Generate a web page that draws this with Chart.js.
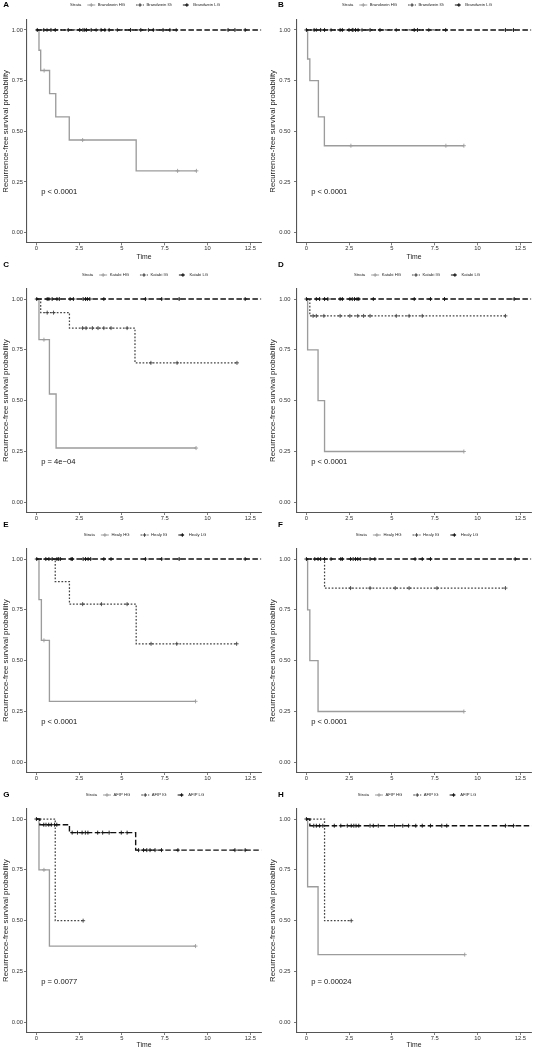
<!DOCTYPE html>
<html>
<head>
<meta charset="utf-8">
<script src="https://cdn.jsdelivr.net/npm/chart.js@4.4.1/dist/chart.umd.min.js"></script>
<style>
  html, body { margin: 0; padding: 0; background: #fff; }
  body { width: 536px; height: 1050px; position: relative; overflow: hidden; }
  .cell { position: absolute; overflow: hidden; }
  .cell canvas { position: absolute; left: 0; top: 0; }
</style>
</head>
<body>
<script>
// axis ticks
const xTicks = [0, 2.5, 5, 7.5, 10, 12.5];
const yTicks = [0, 0.25, 0.5, 0.75, 1];

// panels
const panelIds = ['A', 'B', 'C', 'D', 'E', 'F', 'G', 'H'];
const systems = ['Brandwein', 'Brandwein', 'Katabi', 'Katabi', 'Healy', 'Healy', 'AFIP', 'AFIP'];
const pLabels = ['p < 0.0001', 'p < 0.0001', 'p = 4e\u221204', 'p < 0.0001', 'p < 0.0001', 'p < 0.0001', 'p = 0.0077', 'p = 0.00024'];
const groupNames = ['HG', 'IG', 'LG'];

// Panel A - Brandwein
const hgTimeA = [0, 0.15, 0.25, 0.77, 1.13, 1.92, 5.83, 9.35];
const hgSurvA = [1, 0.9, 0.8, 0.686, 0.571, 0.457, 0.305, 0.305];
const hgCensA = [0.45, 2.7, 8.25, 9.35];
const igTimeA = [0, 8.2];
const igSurvA = [1, 1];
const igCensA = [0.62, 2.82, 3.49, 4.73, 6.55, 8.17];
const lgTimeA = [0, 13.4];
const lgSurvA = [1, 1];
const lgCensA = [0.05, 0.43, 0.85, 1.1, 1.86, 2.53, 2.72, 2.92, 3.2, 3.78, 4.0, 4.25, 5.5, 6.1, 6.83, 7.4, 7.8, 11.2, 11.6, 12.2];

// Panel B - Brandwein
const hgTimeB = [0, 0.07, 0.2, 0.7, 1.05, 9.2];
const hgSurvB = [1, 0.857, 0.75, 0.571, 0.429, 0.429];
const hgCensB = [2.6, 8.15, 9.2];
const igTimeB = [0, 8.2];
const igSurvB = [1, 1];
const igCensB = [0.58, 1.44, 2.73, 3.25, 5.25, 7.15];
const lgTimeB = [0, 13.4];
const lgSurvB = [1, 1];
const lgCensB = [0, 0.45, 0.83, 1.06, 1.97, 2.1, 2.49, 2.68, 2.87, 3.02, 3.72, 4.3, 6.3, 6.49, 8.14, 11.63, 12.1];

// Panel C - Katabi
const hgTimeC = [0, 0.15, 0.76, 1.15, 9.33];
const hgSurvC = [1, 0.8, 0.533, 0.267, 0.267];
const hgCensC = [0.44, 9.33];
const igTimeC = [0, 0.25, 1.93, 5.76, 11.72];
const igSurvC = [1, 0.933, 0.857, 0.686, 0.686];
const igCensC = [0.63, 1.0, 2.7, 2.9, 3.27, 3.6, 3.94, 4.36, 5.3, 6.69, 8.22, 11.72];
const lgTimeC = [0, 13.4];
const lgSurvC = [1, 1];
const lgCensC = [0.02, 0.63, 0.73, 0.92, 1.2, 1.34, 1.97, 2.16, 2.73, 2.87, 2.98, 3.12, 3.94, 6.37, 7.32, 8.34, 12.2];

// Panel D - Katabi
const hgTimeD = [0, 0.07, 0.68, 1.06, 9.2];
const hgSurvD = [1, 0.75, 0.5, 0.25, 0.25];
const hgCensD = [9.2];
const igTimeD = [0, 0.2, 11.63];
const igSurvD = [1, 0.917, 0.917];
const igCensD = [0.39, 0.58, 1.02, 1.97, 2.54, 3.0, 3.34, 3.72, 5.25, 6.0, 6.77, 11.63];
const lgTimeD = [0, 13.4];
const lgSurvD = [1, 1];
const lgCensD = [0, 0.58, 0.77, 1.06, 1.25, 1.97, 2.1, 2.54, 2.68, 2.81, 2.96, 3.06, 3.91, 6.3, 7.25, 8.07, 12.14];

// Panel E - Healy
const hgTimeE = [0, 0.15, 0.29, 0.76, 9.3];
const hgSurvE = [1, 0.8, 0.6, 0.3, 0.3];
const hgCensE = [0.44, 9.3];
const igTimeE = [0, 1.1, 1.93, 5.83, 11.7];
const igSurvE = [1, 0.889, 0.778, 0.583, 0.583];
const igCensE = [2.7, 3.8, 5.3, 6.7, 8.2, 11.7];
const lgTimeE = [0, 13.4];
const lgSurvE = [1, 1];
const lgCensE = [0.02, 0.55, 0.73, 0.92, 1.2, 1.3, 1.4, 2.03, 2.1, 2.73, 2.87, 3.02, 3.17, 3.94, 4.36, 6.37, 7.32, 8.34, 12.2];

// Panel F - Healy
const hgTimeF = [0, 0.07, 0.2, 0.68, 9.2];
const hgSurvF = [1, 0.75, 0.5, 0.25, 0.25];
const hgCensF = [9.2];
const igTimeF = [0, 1.06, 11.63];
const igSurvF = [1, 0.857, 0.857];
const igCensF = [2.58, 3.72, 5.19, 6.0, 7.63, 11.63];
const lgTimeF = [0, 13.4];
const lgSurvF = [1, 1];
const lgCensF = [0, 0.49, 0.68, 0.83, 1.06, 1.44, 2.01, 2.1, 2.58, 2.73, 2.87, 3.0, 3.15, 3.72, 4.0, 6.35, 6.77, 7.25, 12.2];

// Panel G - AFIP
const hgTimeG = [0, 0.15, 0.76, 9.3];
const hgSurvG = [1, 0.75, 0.375, 0.375];
const hgCensG = [0.44, 9.3];
const igTimeG = [0, 1.1, 2.73];
const igSurvG = [1, 0.5, 0.5];
const igCensG = [2.73];
const lgTimeG = [0, 0.2, 1.93, 5.8, 13.4];
const lgSurvG = [1, 0.972, 0.933, 0.847, 0.847];
const lgCensG = [0, 0.43, 0.56, 0.72, 0.87, 1.06, 1.19, 2.09, 2.4, 2.67, 2.86, 3.01, 3.58, 3.87, 4.25, 4.96, 5.3, 5.97, 6.26, 6.45, 6.64, 6.93, 7.31, 8.27, 11.6, 12.2];

// Panel H - AFIP
const hgTimeH = [0, 0.07, 0.68, 9.25];
const hgSurvH = [1, 0.667, 0.333, 0.333];
const hgCensH = [9.25];
const igTimeH = [0, 1.06, 2.62];
const igSurvH = [1, 0.5, 0.5];
const igCensH = [2.62];
const lgTimeH = [0, 0.2, 13.4];
const lgSurvH = [1, 0.967, 0.967];
const lgCensH = [0, 0.43, 0.58, 0.77, 0.96, 1.63, 2.01, 2.39, 2.62, 2.77, 2.9, 3.06, 3.72, 3.91, 4.2, 5.15, 5.63, 5.97, 6.39, 6.77, 7.25, 7.91, 8.2, 11.63, 12.1];

const panelCurves = [
  [[hgTimeA, hgSurvA, hgCensA], [igTimeA, igSurvA, igCensA], [lgTimeA, lgSurvA, lgCensA]],
  [[hgTimeB, hgSurvB, hgCensB], [igTimeB, igSurvB, igCensB], [lgTimeB, lgSurvB, lgCensB]],
  [[hgTimeC, hgSurvC, hgCensC], [igTimeC, igSurvC, igCensC], [lgTimeC, lgSurvC, lgCensC]],
  [[hgTimeD, hgSurvD, hgCensD], [igTimeD, igSurvD, igCensD], [lgTimeD, lgSurvD, lgCensD]],
  [[hgTimeE, hgSurvE, hgCensE], [igTimeE, igSurvE, igCensE], [lgTimeE, lgSurvE, lgCensE]],
  [[hgTimeF, hgSurvF, hgCensF], [igTimeF, igSurvF, igCensF], [lgTimeF, lgSurvF, lgCensF]],
  [[hgTimeG, hgSurvG, hgCensG], [igTimeG, igSurvG, igCensG], [lgTimeG, lgSurvG, lgCensG]],
  [[hgTimeH, hgSurvH, hgCensH], [igTimeH, igSurvH, igCensH], [lgTimeH, lgSurvH, lgCensH]]
];

// styles
const groupColors = ['#9c9c9c', '#444444', '#111111'];
const groupDash = [[], [1.7, 1.7], [5.5, 2.5]];
const groupWidth = [1.35, 1.25, 1.4];
const xMin = -0.55, xMax = 13.13;
const pPos = [0.28, 0.2];

// layout of the 2x4 grid (pixels)
const rows = [
  { top: 0,   height: 262, canvasH: 262, areaTop: 19.85, areaBottom: 242.8, letterY: 5,  legendY: 5 },
  { top: 262, height: 260, canvasH: 270, areaTop: 26.85, areaBottom: 250.5, letterY: 3,  legendY: 13 },
  { top: 522, height: 262, canvasH: 270, areaTop: 26.85, areaBottom: 250.5, letterY: 3,  legendY: 13 },
  { top: 784, height: 266, canvasH: 266, areaTop: 24.85, areaBottom: 248.5, letterY: 11, legendY: 11 }
];
const cols = [
  { left: 0,   width: 266, axisW: 27, letterX: 3.3, legendCx: 145, titlePad: 1.3, tickPad: 1 },
  { left: 266, width: 270, axisW: 31, letterX: 12,  legendCx: 151, titlePad: 2,   tickPad: 3.5 }
];

Chart.defaults.font.family = '"Liberation Sans", Arial, Helvetica, sans-serif';

function survAt(times, surv, t) {
  let s = surv[0];
  for (let i = 0; i < times.length; i++) {
    if (times[i] <= t) s = surv[i];
  }
  return s;
}

// letter, legend and p-value drawn on top of each panel
const panelDeco = {
  id: 'panelDeco',
  afterDraw(chart, args, opts) {
    const ctx = chart.ctx;
    const xs = chart.scales.x, ys = chart.scales.y;
    ctx.save();
    ctx.textBaseline = 'middle';
    ctx.textAlign = 'left';

    ctx.fillStyle = '#000';
    ctx.font = 'bold 8px "Liberation Sans", Arial, sans-serif';
    ctx.fillText(opts.letter, opts.letterX, opts.letterY);

    ctx.font = '4.2px "Liberation Sans", Arial, sans-serif';
    const titleW = ctx.measureText('Strata').width;
    const widths = opts.labels.map(l => ctx.measureText(l).width);
    const total = titleW + 6 + widths.reduce((a, w) => a + 10.5 + w, 0) + 11 * (widths.length - 1);
    let x = opts.legendCx - total / 2;
    const y = opts.legendY;
    ctx.fillStyle = '#222';
    ctx.fillText('Strata', x, y);
    x += titleW + 6;
    opts.labels.forEach((label, i) => {
      ctx.strokeStyle = groupColors[i];
      ctx.lineWidth = 1;
      ctx.setLineDash(groupDash[i]);
      ctx.beginPath();
      ctx.moveTo(x, y);
      ctx.lineTo(x + 8, y);
      ctx.stroke();
      ctx.setLineDash([]);
      ctx.beginPath();
      ctx.moveTo(x + 4, y - 1.8);
      ctx.lineTo(x + 4, y + 1.8);
      ctx.moveTo(x + 2.2, y);
      ctx.lineTo(x + 5.8, y);
      ctx.stroke();
      ctx.fillStyle = '#222';
      ctx.fillText(label, x + 10.5, y);
      x += 10.5 + widths[i] + 11;
    });

    ctx.font = '7.6px "Liberation Sans", Arial, sans-serif';
    ctx.fillStyle = '#111';
    ctx.fillText(opts.p, xs.getPixelForValue(pPos[0]), ys.getPixelForValue(pPos[1]));
    ctx.restore();
  }
};

function buildDatasets(curves) {
  const sets = [];
  curves.forEach(([times, surv, cens], g) => {
    sets.push({
      data: times.map((t, i) => ({ x: t, y: surv[i] })),
      stepped: true,
      borderColor: groupColors[g],
      borderWidth: groupWidth[g],
      borderDash: groupDash[g],
      pointRadius: 0,
      fill: false,
      order: 2 * (2 - g) + 1
    });
    sets.push({
      data: cens.map(c => ({ x: c, y: survAt(times, surv, c) })),
      showLine: false,
      pointStyle: 'cross',
      pointRadius: 2,
      pointBorderColor: groupColors[g],
      pointBorderWidth: 0.9,
      order: 2 * (2 - g)
    });
  });
  return sets;
}

panelIds.forEach((id, k) => {
  const row = rows[Math.floor(k / 2)];
  const col = cols[k % 2];

  const cell = document.createElement('div');
  cell.className = 'cell';
  cell.style.left = col.left + 'px';
  cell.style.top = row.top + 'px';
  cell.style.width = col.width + 'px';
  cell.style.height = row.height + 'px';
  const canvas = document.createElement('canvas');
  canvas.width = col.width;
  canvas.height = row.canvasH;
  canvas.style.width = col.width + 'px';
  canvas.style.height = row.canvasH + 'px';
  cell.appendChild(canvas);
  document.body.appendChild(cell);

  new Chart(canvas, {
    type: 'line',
    data: { datasets: buildDatasets(panelCurves[k]) },
    options: {
      responsive: false,
      animation: false,
      devicePixelRatio: 1,
      events: [],
      layout: { padding: { top: row.areaTop, left: 0, right: 0, bottom: 0 } },
      scales: {
        x: {
          type: 'linear',
          min: xMin,
          max: xMax,
          afterBuildTicks: s => { s.ticks = xTicks.map(v => ({ value: v })); },
          afterFit: s => { s.height = row.canvasH - row.areaBottom; },
          ticks: {
            font: { size: 5.8, lineHeight: 1 },
            color: '#333',
            padding: 0,
            maxRotation: 0,
            autoSkip: false,
            callback: v => String(v)
          },
          grid: { display: true, drawOnChartArea: false, drawTicks: true, tickLength: 2.5, color: '#555', lineWidth: 0.8 },
          border: { display: true, color: '#555', width: 1.1 },
          title: { display: true, text: 'Time', font: { size: 6.8 }, color: '#222', padding: { top: 0, bottom: 0.5 } }
        },
        y: {
          type: 'linear',
          min: -0.05,
          max: 1.05,
          afterBuildTicks: s => { s.ticks = yTicks.map(v => ({ value: v })); },
          afterFit: s => { s.width = col.axisW; },
          ticks: {
            font: { size: 5.8, lineHeight: 1 },
            color: '#333',
            padding: col.tickPad,
            autoSkip: false,
            callback: v => v.toFixed(2)
          },
          grid: { display: true, drawOnChartArea: false, drawTicks: true, tickLength: 3, color: '#555', lineWidth: 0.8 },
          border: { display: true, color: '#555', width: 1.1 },
          title: {
            display: true,
            text: 'Recurrence-free survival probability',
            font: { size: 7.8 },
            color: '#222',
            padding: { top: col.titlePad, bottom: 0 }
          }
        }
      },
      plugins: {
        legend: { display: false },
        tooltip: { enabled: false },
        panelDeco: {
          letter: id,
          letterX: col.letterX,
          letterY: row.letterY,
          legendCx: col.legendCx,
          legendY: row.legendY,
          labels: groupNames.map(g => systems[k] + ' ' + g),
          p: pLabels[k]
        }
      }
    },
    plugins: [panelDeco]
  });
});
</script>
</body>
</html>
